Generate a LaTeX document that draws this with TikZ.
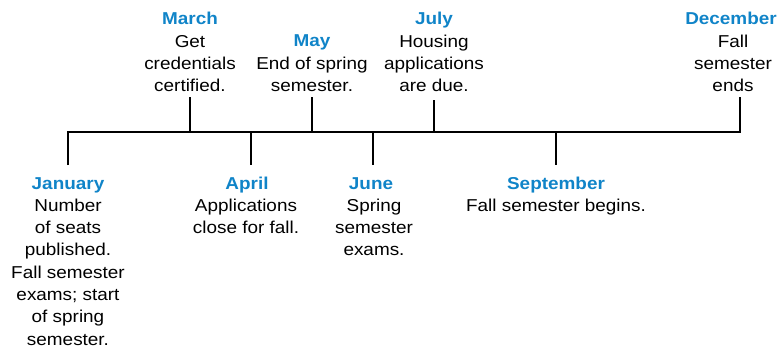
\documentclass[tikz,border=0pt]{standalone}
\usepackage{fontspec}
\setmainfont[FakeStretch=1.1]{Liberation Sans}
\definecolor{monthblue}{RGB}{16,132,200}
\begin{document}
\begin{tikzpicture}[x=1pt,y=-1pt,
  axisline/.style={line width=2.6pt,line cap=butt,line join=miter},
  month/.style={anchor=base,inner sep=0pt,font=\fontsize{17.2}{22.3}\selectfont\bfseries,text=monthblue},
  body/.style={anchor=north,inner sep=0pt,align=center,font=\fontsize{17.2}{22.3}\selectfont}]
\useasboundingbox (0,0) rectangle (779,350);

% points on the main axis
\coordinate (aJan) at (68,132);
\coordinate (aMar) at (190,132);
\coordinate (aApr) at (251,132);
\coordinate (aMay) at (312,132);
\coordinate (aJun) at (373,132);
\coordinate (aJul) at (434,132);
\coordinate (aSep) at (556,132);
\coordinate (aDec) at (740,132);

% free ends of the ticks
\coordinate (tJan) at (68,165);
\coordinate (tMar) at (190,97);
\coordinate (tApr) at (251,165);
\coordinate (tMay) at (312,97);
\coordinate (tJun) at (373,165);
\coordinate (tJul) at (434,100);
\coordinate (tSep) at (556,165);
\coordinate (tDec) at (740,97);

\draw[axisline] (tJan) -- (aJan) -- (aDec) -- (tDec);
\foreach \m in {Mar,Apr,May,Jun,Jul,Sep}
  \draw[axisline] (a\m) -- (t\m);

% labels above the axis
\node[month] (mMar) at (190,25) {March};
\node[body] (bMar) at (190,34) {\rule{0pt}{13pt}Get\\credentials\\certified.};
\node[month] (mMay) at (312,47) {May};
\node[body] (bMay) at (312,56) {\rule{0pt}{13pt}End of spring\\semester.};
\node[month] (mJul) at (434,25) {July};
\node[body] (bJul) at (434,34) {\rule{0pt}{13pt}Housing\\applications\\are due.};
\node[month] (mDec) at (731,25) {December};
\node[body] (bDec) at (733,34) {\rule{0pt}{13pt}Fall\\semester\\ends};

% labels below the axis
\node[month] (mJan) at (68,189) {January};
\node[body] (bJan) at (68,198) {\rule{0pt}{13pt}Number\\of seats\\published.\\Fall semester\\exams; start\\of spring\\semester.};
\node[month] (mApr) at (247,189) {April};
\node[body] (bApr) at (246,198) {\rule{0pt}{13pt}Applications\\close for fall.};
\node[month] (mJun) at (371,189) {June};
\node[body] (bJun) at (374,198) {\rule{0pt}{13pt}Spring\\semester\\exams.};
\node[month] (mSep) at (556,189) {September};
\node[body] (bSep) at (556,198) {\rule{0pt}{13pt}Fall semester begins.};
\end{tikzpicture}
\end{document}
